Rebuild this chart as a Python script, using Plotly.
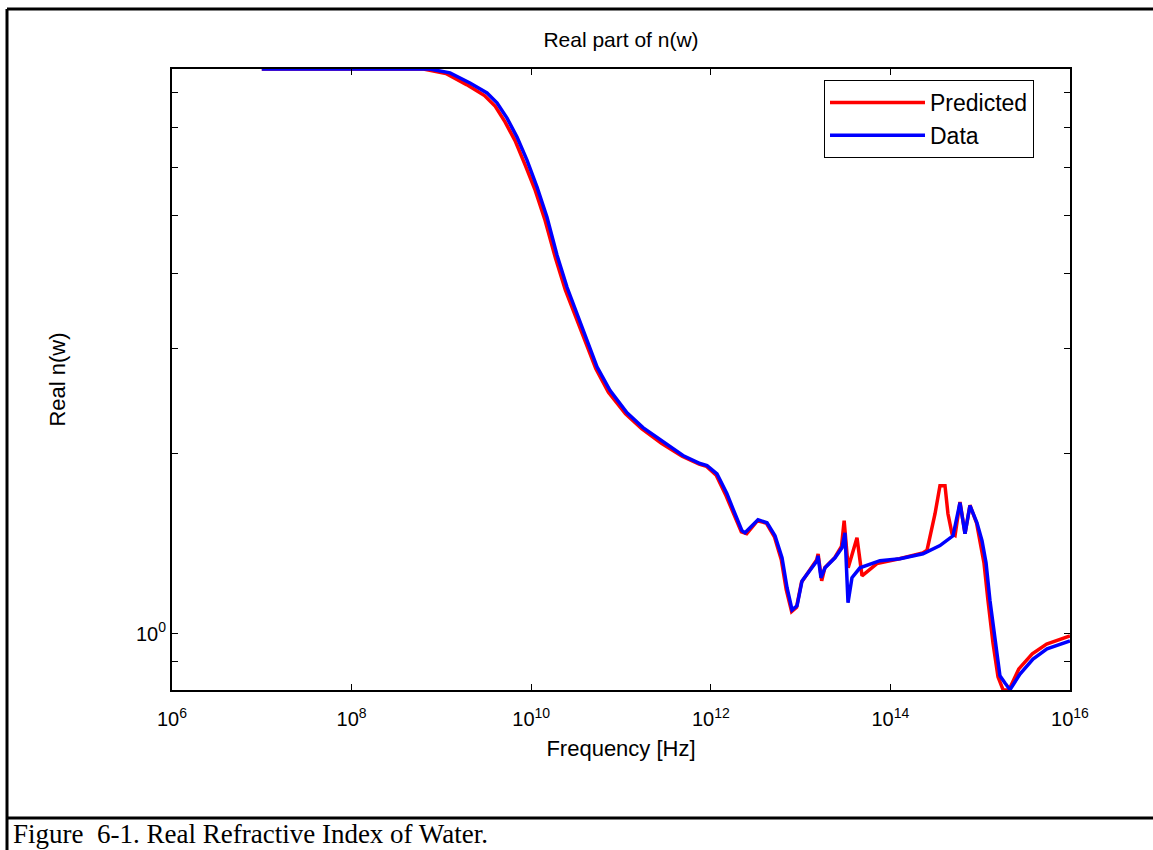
import plotly.graph_objects as go
import numpy as np

# log10 of frequency [Hz] and real refractive index
data_log_freq = [7.00, 7.98, 8.87, 9.096, 9.318, 9.508, 9.619, 9.731, 9.842, 9.953,
                 10.065, 10.176, 10.287, 10.399, 10.510, 10.621, 10.733, 10.877, 11.067, 11.245,
                 11.468, 11.690, 11.880, 11.958, 12.069, 12.180, 12.269, 12.347, 12.381, 12.526,
                 12.626, 12.715, 12.793, 12.849, 12.905, 12.960, 13.016, 13.082, 13.183, 13.194,
                 13.227, 13.272, 13.383, 13.461, 13.494, 13.528, 13.572, 13.661, 13.884, 14.107,
                 14.363, 14.552, 14.697, 14.775, 14.831, 14.886, 14.964, 15.020, 15.065, 15.109,
                 15.165, 15.220, 15.276, 15.332, 15.443, 15.588, 15.744, 16.000]
data_n = [8.77, 8.77, 8.77, 8.64, 8.31, 8.00, 7.70, 7.26, 6.75, 6.18,
          5.57, 4.96, 4.29, 3.79, 3.43, 3.09, 2.79, 2.55, 2.34, 2.21,
          2.09, 1.985, 1.925, 1.91, 1.85, 1.714, 1.587, 1.487, 1.475, 1.551,
          1.533, 1.458, 1.340, 1.194, 1.097, 1.114, 1.226, 1.265, 1.325, 1.350,
          1.241, 1.289, 1.340, 1.392, 1.475, 1.127, 1.241, 1.289, 1.325, 1.335,
          1.361, 1.404, 1.458, 1.656, 1.470, 1.637, 1.533, 1.431, 1.314, 1.136,
          0.973, 0.851, 0.828, 0.807, 0.857, 0.908, 0.944, 0.973]

pred_log_freq = [7.00, 7.98, 8.80, 9.05, 9.28, 9.48, 9.60, 9.71, 9.82, 9.93,
                 10.045, 10.155, 10.27, 10.38, 10.49, 10.60, 10.72, 10.86, 11.05, 11.23,
                 11.45, 11.68, 11.87, 11.95, 12.06, 12.17, 12.26, 12.34, 12.40, 12.52,
                 12.62, 12.71, 12.785, 12.84, 12.90, 12.955, 13.01, 13.08, 13.18, 13.195,
                 13.235, 13.27, 13.38, 13.455, 13.485, 13.53, 13.628, 13.684, 13.751, 13.85,
                 14.10, 14.36, 14.408, 14.497, 14.552, 14.608, 14.641, 14.686, 14.72, 14.775,
                 14.831, 14.886, 14.96, 14.998, 15.042, 15.087, 15.142, 15.198, 15.254, 15.32,
                 15.43, 15.58, 15.74, 16.00]
pred_n = [8.77, 8.77, 8.77, 8.62, 8.26, 7.92, 7.60, 7.15, 6.66, 6.08,
          5.50, 4.90, 4.24, 3.75, 3.40, 3.06, 2.77, 2.53, 2.33, 2.20,
          2.08, 1.98, 1.92, 1.905, 1.84, 1.70, 1.575, 1.48, 1.47, 1.545,
          1.53, 1.45, 1.33, 1.185, 1.09, 1.108, 1.22, 1.265, 1.33, 1.36,
          1.226, 1.29, 1.34, 1.40, 1.545, 1.29, 1.447, 1.25, 1.274, 1.31,
          1.335, 1.365, 1.38, 1.587, 1.768, 1.768, 1.587, 1.470, 1.46, 1.66,
          1.47, 1.64, 1.53, 1.431, 1.314, 1.136, 0.966, 0.848, 0.807, 0.806,
          0.874, 0.926, 0.962, 0.992]

x_tick_vals = [1e6, 1e8, 1e10, 1e12, 1e14, 1e16]
x_tick_text = ["10<sup>6</sup>", "10<sup>8</sup>", "10<sup>10</sup>", "10<sup>12</sup>",
               "10<sup>14</sup>", "10<sup>16</sup>"]
y_tick_vals = [0.8, 0.9, 1, 2, 3, 4, 5, 6, 7, 8]
y_tick_text = ["", "", "10<sup>0</sup>", "", "", "", "", "", "", ""]

FONT = "Liberation Sans, Arial, sans-serif"

fig = go.Figure()
fig.add_trace(go.Scatter(x=np.power(10.0, pred_log_freq), y=pred_n, mode="lines",
                         name="Predicted", line=dict(color="#ff0000", width=3.5)))
fig.add_trace(go.Scatter(x=np.power(10.0, data_log_freq), y=data_n, mode="lines",
                         name="Data", line=dict(color="#0000ff", width=3.5)))

L, R, T, B = 172, 1070, 69, 690
W, H = 1153, 850

def px(xp):
    return (xp - L) / (R - L)

def py(yp):
    return (B - yp) / (B - T)

axis_common = dict(showline=True, linecolor="black", linewidth=2, mirror="ticks",
                   ticks="inside", ticklen=6, tickwidth=1, tickcolor="black",
                   showgrid=False, zeroline=False,
                   tickfont=dict(family=FONT, size=20, color="black"))

fig.update_xaxes(type="log", range=[6, 16], tickvals=x_tick_vals, ticktext=x_tick_text,
                 ticklabelstandoff=10,
                 title=dict(text="Frequency [Hz]", font=dict(family=FONT, size=22, color="black"),
                            standoff=12),
                 **axis_common)
fig.update_yaxes(type="log", range=[np.log10(0.806), np.log10(8.77)],
                 tickvals=y_tick_vals, ticktext=y_tick_text,
                 title=dict(text="Real n(w)", font=dict(family=FONT, size=22, color="black"),
                            standoff=64),
                 **axis_common)

# figure frame lines (page border)
frame = dict(color="black", width=3)
fig.add_shape(type="line", xref="paper", yref="paper", x0=px(7), x1=px(1153), y0=py(9), y1=py(9), line=frame)
fig.add_shape(type="line", xref="paper", yref="paper", x0=px(7), x1=px(7), y0=py(9), y1=py(850), line=frame)
fig.add_shape(type="line", xref="paper", yref="paper", x0=px(7), x1=px(1153), y0=py(818), y1=py(818), line=frame)

fig.add_annotation(text="Figure  6-1. Real Refractive Index of Water.", xref="paper", yref="paper",
                   x=px(11), y=py(834), xanchor="left", yanchor="middle", showarrow=False,
                   font=dict(family="Liberation Serif, Times New Roman, serif", size=27, color="black"))

fig.update_layout(
    width=W, height=H,
    margin=dict(l=L, r=W - R, t=T, b=H - B),
    paper_bgcolor="white", plot_bgcolor="white",
    title=dict(text="Real part of n(w)", x=0.5, xref="paper", y=1 - 40 / H, yanchor="middle",
               font=dict(family=FONT, size=21, color="black")),
    legend=dict(x=px(824), y=py(80), xanchor="left", yanchor="top",
                bordercolor="black", borderwidth=1, bgcolor="white",
                font=dict(family=FONT, size=23, color="black"), itemwidth=95,
                tracegroupgap=10),
    showlegend=True,
)

fig.write_html("out.html")
